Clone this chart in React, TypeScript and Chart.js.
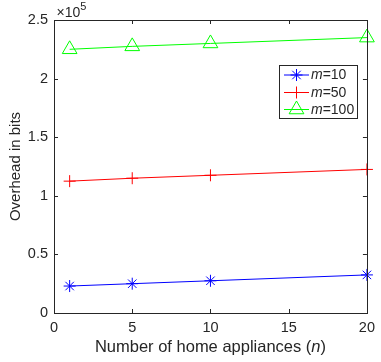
import React, { useEffect, useRef } from "react";
import { Chart, registerables } from "chart.js";
import { drawPoint } from "chart.js/helpers";

Chart.register(...registerables);

const nValues = [1, 5, 10, 20];
const overheadM10 = [23000, 25000, 27500, 32500];
const overheadM50 = [112500, 115000, 117500, 122500];
const overheadM100 = [225000, 227500, 230000, 235000];
const seriesLabels = ["10", "50", "100"];
const seriesColors = ["#0000ff", "#ff0000", "#00ff00"];
const seriesMarkers = ["star", "cross", "triangle"];
const seriesRadii = [6, 6, 8.5];
const xTickValues = [0, 5, 10, 15, 20];
const yTickValues = [0, 50000, 100000, 150000, 200000, 250000];
const yScaleExponent = 5;
const xTitleMain = "Number of home appliances (";
const xTitleVar = "n";
const xTitleEnd = ")";
const yTitle = "Overhead in bits";

const FONT = '"Liberation Sans", Arial, Helvetica, sans-serif';
const AXIS_COLOR = "#262626";

export default function App() {
  const ref = useRef<HTMLCanvasElement | null>(null);

  useEffect(() => {
    document.body.style.margin = "0";
    const canvas = ref.current;
    if (!canvas) return;
    const seriesValues = [overheadM10, overheadM50, overheadM100];

    const decor = {
      id: "matlabDecor",
      afterDraw(chart: any) {
        const { ctx, chartArea } = chart;
        const { left, right, top, bottom } = chartArea;
        const xs = chart.scales.x;
        const ys = chart.scales.y;
        ctx.save();
        // box
        ctx.strokeStyle = AXIS_COLOR;
        ctx.lineWidth = 1;
        ctx.strokeRect(Math.round(left) + 0.5, Math.round(top) + 0.5, Math.round(right - left), Math.round(bottom - top));
        // inward ticks
        const tl = 4;
        ctx.beginPath();
        xTickValues.forEach((v) => {
          const px = Math.round(xs.getPixelForValue(v)) + 0.5;
          ctx.moveTo(px, bottom);
          ctx.lineTo(px, bottom - tl);
          ctx.moveTo(px, top);
          ctx.lineTo(px, top + tl);
        });
        yTickValues.forEach((v) => {
          const py = Math.round(ys.getPixelForValue(v)) + 0.5;
          ctx.moveTo(left, py);
          ctx.lineTo(left + tl, py);
          ctx.moveTo(right, py);
          ctx.lineTo(right - tl, py);
        });
        ctx.stroke();

        // exponent label
        ctx.fillStyle = AXIS_COLOR;
        ctx.textBaseline = "alphabetic";
        ctx.textAlign = "left";
        ctx.font = `14px ${FONT}`;
        const expMain = "\u00d710";
        ctx.fillText(expMain, left + 2.5, 17);
        const w1 = ctx.measureText(expMain).width;
        ctx.font = `11px ${FONT}`;
        ctx.fillText(String(yScaleExponent), left + 2.5 + w1, 9.5);

        // x title with italic n
        const tf = 16.5;
        ctx.font = `${tf}px ${FONT}`;
        const wa = ctx.measureText(xTitleMain).width;
        const wc = ctx.measureText(xTitleEnd).width;
        ctx.font = `italic ${tf}px ${FONT}`;
        const wb = ctx.measureText(xTitleVar).width;
        const total = wa + wb + wc;
        let tx = (left + right) / 2 - total / 2;
        const ty = 352;
        ctx.font = `${tf}px ${FONT}`;
        ctx.fillText(xTitleMain, tx, ty);
        tx += wa;
        ctx.font = `italic ${tf}px ${FONT}`;
        ctx.fillText(xTitleVar, tx, ty);
        tx += wb;
        ctx.font = `${tf}px ${FONT}`;
        ctx.fillText(xTitleEnd, tx, ty);

        // legend
        const lx = 279.5, ly = 65.5, lw = 78, lh = 53;
        ctx.fillStyle = "#ffffff";
        ctx.fillRect(lx, ly, lw, lh);
        ctx.strokeStyle = AXIS_COLOR;
        ctx.strokeRect(lx, ly, lw, lh);
        const rowY = [75, 92.5, 109.5];
        seriesLabels.forEach((lab, i) => {
          const y = rowY[i];
          ctx.strokeStyle = seriesColors[i];
          ctx.lineWidth = 1;
          ctx.beginPath();
          ctx.moveTo(284, y);
          ctx.lineTo(309, y);
          ctx.stroke();
          ctx.fillStyle = "rgba(0,0,0,0)";
          drawPoint(ctx, { pointStyle: seriesMarkers[i], radius: seriesRadii[i], rotation: 0, borderWidth: 1 } as any, 296.5, y);
          ctx.fillStyle = AXIS_COLOR;
          ctx.textBaseline = "middle";
          ctx.font = `italic 14px ${FONT}`;
          ctx.fillText("m", 311, y + 0.5);
          const mw = ctx.measureText("m").width;
          ctx.font = `14px ${FONT}`;
          ctx.fillText("=" + lab, 311 + mw, y + 0.5);
        });
        ctx.restore();
      },
    };

    const chart = new Chart(canvas, {
      type: "line",
      data: {
        datasets: seriesLabels.map((lab, i) => ({
          label: "m=" + lab,
          data: nValues.map((n, j) => ({ x: n, y: seriesValues[i][j] })),
          borderColor: seriesColors[i],
          backgroundColor: "rgba(0,0,0,0)",
          borderWidth: 1,
          pointStyle: seriesMarkers[i] as any,
          pointRadius: seriesRadii[i],
          pointBorderColor: seriesColors[i],
          pointBackgroundColor: "rgba(0,0,0,0)",
          pointBorderWidth: 1,
          tension: 0,
          clip: false as any,
        })),
      },
      options: {
        animation: false,
        responsive: false,
        devicePixelRatio: 1,
        layout: { padding: { left: 0, top: 20, right: 11, bottom: 0 } },
        plugins: { legend: { display: false }, tooltip: { enabled: false } },
        scales: {
          x: {
            type: "linear",
            min: 0,
            max: 20,
            grid: { display: false, drawTicks: false },
            border: { display: false },
            ticks: {
              stepSize: 5,
              padding: 6,
              color: AXIS_COLOR,
              font: { family: FONT, size: 14.5 },
              maxRotation: 0,
            },
            afterFit: (s: any) => {
              s.height = 49;
            },
          },
          y: {
            type: "linear",
            min: 0,
            max: 250000,
            grid: { display: false, drawTicks: false },
            border: { display: false },
            ticks: {
              stepSize: 50000,
              padding: 6,
              color: AXIS_COLOR,
              font: { family: FONT, size: 14.5 },
              callback: (v: any) => String(Number(v) / Math.pow(10, yScaleExponent)),
            },
            title: {
              display: true,
              text: yTitle,
              color: AXIS_COLOR,
              font: { family: FONT, size: 15 },
              padding: { top: 7, bottom: 0 },
            },
            afterFit: (s: any) => {
              s.width = 54;
            },
          },
        },
      },
      plugins: [decor],
    });
    return () => chart.destroy();
  }, []);

  return (
    <div style={{ position: "absolute", left: 0, top: 0, width: 381, height: 362 }}>
      <canvas ref={ref} width={381} height={362} style={{ width: 381, height: 362 }} />
    </div>
  );
}
